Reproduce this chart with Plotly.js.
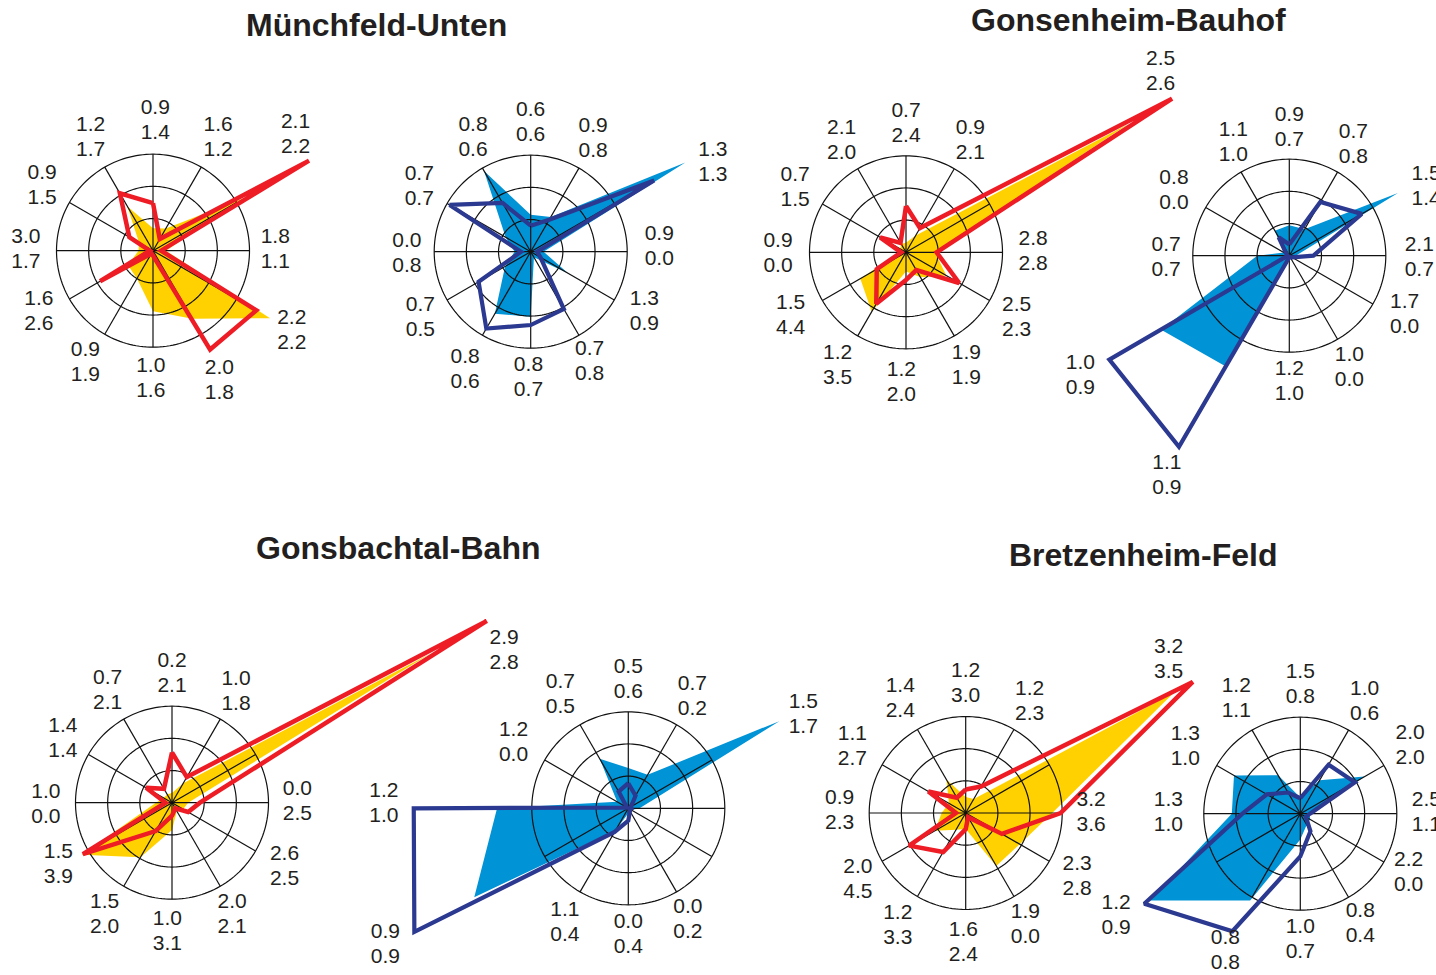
<!DOCTYPE html>
<html>
<head>
<meta charset="utf-8">
<script src="https://cdn.plot.ly/plotly-3.0.1.min.js"></script>
<style>
  html, body { margin: 0; padding: 0; background: #ffffff; }
  #chart { width: 1436px; height: 975px; }
</style>
</head>
<body>
<div id="chart"></div>
<script>
// ---------------- DATA ----------------
// 12 wind-rose directions (degrees, clockwise from north)
const directions = [0, 30, 60, 90, 120, 150, 180, 210, 240, 270, 300, 330];

// Münchfeld-Unten, left rose (yellow area / red outline)
const muenchfeldAFill = [0.7, 0.8, 3.3, 0.4, 4.2, 2.44, 1.88, 1.0, 0.9, 0.45, 0.5, 1.6];
const muenchfeldALine = [1.48, 0.42, 5.6, 0.25, 3.71, 3.55, 0.15, 0.1, 1.9, 0.1, 0.85, 2.06];
const muenchfeldATop    = ['0.9','1.6','2.1','1.8','2.2','2.0','1.0','0.9','1.6','3.0','0.9','1.2'];
const muenchfeldABottom = ['1.4','1.2','2.2','1.1','2.2','1.8','1.6','1.9','2.6','1.7','1.5','1.7'];

// Münchfeld-Unten, right rose (blue area / navy outline)
const muenchfeldBFill = [1.15, 1.25, 5.55, 0.4, 1.35, 0.2, 2.02, 2.23, 0.92, 0.5, 0.9, 2.9];
const muenchfeldBLine = [0.81, 1.15, 4.43, 0.2, 0.35, 2.06, 2.28, 2.76, 1.87, 0.3, 2.91, 1.75];
const muenchfeldBTop    = ['0.6','0.9','1.3','0.9','1.3','0.7','0.8','0.8','0.7','0.0','0.7','0.8'];
const muenchfeldBBottom = ['0.6','0.8','1.3','0.0','0.9','0.8','0.7','0.6','0.5','0.8','0.7','0.6'];

// Gonsenheim-Bauhof, left rose
const gonsenheimAFill = [0.3, 0.6, 8.0, 0.9, 1.45, 0.9, 0.6, 2.13, 1.64, 0.2, 0.2, 0.3];
const gonsenheimALine = [1.44, 0.87, 9.55, 0.95, 1.91, 0.64, 0.86, 1.85, 1.05, 0.15, 0.93, 0.34];
const gonsenheimATop    = ['0.7','0.9','2.5','2.8','2.5','1.9','1.2','1.2','1.5','0.9','0.7','2.1'];
const gonsenheimABottom = ['2.4','2.1','2.6','2.8','2.3','1.9','2.0','3.5','4.4','0.0','1.5','2.0'];

// Gonsenheim-Bauhof, right rose
const gonsenheimBFill = [0.95, 0.95, 3.9, 0.2, 0.05, 0.05, 0.05, 3.97, 4.6, 1.0, 0.2, 0.9];
const gonsenheimBLine = [0.35, 1.93, 2.6, 0.75, 0.1, 0.05, 0.05, 6.86, 6.46, 0.05, 0.1, 0.66];
const gonsenheimBTop    = ['0.9','0.7','1.5','2.1','1.7','1.0','1.2','1.1','1.0','0.7','0.8','1.1'];
const gonsenheimBBottom = ['0.7','0.8','1.4','0.7','0.0','0.0','1.0','0.9','0.9','0.7','0.0','1.0'];

// Gonsbachtal-Bahn, left rose
const gonsbachAFill = [0.3, 0.7, 9.3, 0.5, 0.4, 0.3, 0.85, 1.96, 3.24, 0.5, 0.3, 0.3];
const gonsbachALine = [1.56, 0.92, 11.3, 0.87, 0.58, 0.2, 0.4, 1.02, 3.2, 0.2, 0.93, 0.5];
const gonsbachATop    = ['0.2','1.0','2.9','0.0','2.6','2.0','1.0','1.5','1.5','1.0','1.4','0.7'];
const gonsbachABottom = ['2.1','1.8','2.8','2.5','2.5','2.1','3.1','2.0','3.9','0.0','1.4','2.1'];

// Gonsbachtal-Bahn, right rose
const gonsbachBFill = [1.25, 1.2, 5.42, 0.35, 0.1, 0.1, 0.15, 0.8, 5.53, 4.08, 0.4, 1.78];
const gonsbachBLine = [0.78, 0.45, 0.1, 0.1, 0.05, 0.1, 0.38, 0.85, 7.68, 6.67, 0.05, 0.6];
const gonsbachBTop    = ['0.5','0.7','1.5','','','0.0','0.0','1.1','0.9','1.2','1.2','0.7'];
const gonsbachBBottom = ['0.6','0.2','1.7','','','0.2','0.4','0.4','0.9','1.0','0.0','0.5'];

// Bretzenheim-Feld, left rose
const bretzenheimAFill = [0.5, 0.5, 7.46, 2.69, 1.94, 1.9, 0.5, 0.6, 1.1, 0.75, 0.6, 1.2];
const bretzenheimALine = [0.73, 0.95, 8.15, 2.95, 1.3, 0.15, 0.5, 1.4, 2.03, 0.3, 1.34, 0.55];
const bretzenheimATop    = ['1.2','1.2','3.2','3.2','2.3','1.9','1.6','1.2','2.0','0.9','1.1','1.4'];
const bretzenheimABottom = ['3.0','2.3','3.5','3.6','2.8','0.0','2.4','3.3','4.5','2.3','2.7','2.4'];

// Bretzenheim-Feld, right rose
const bretzenheimBFill = [0.5, 1.2, 2.31, 0.3, 0.35, 0.4, 0.8, 3.12, 5.39, 2.13, 2.38, 1.38];
const bretzenheimBLine = [0.48, 1.76, 1.96, 0.3, 0.2, 0.63, 1.33, 4.22, 5.6, 1.8, 1.2, 0.76];
const bretzenheimBTop    = ['1.5','1.0','2.0','2.5','2.2','0.8','1.0','0.8','1.2','1.3','1.3','1.2'];
const bretzenheimBBottom = ['0.8','0.6','2.0','1.1','0.0','0.4','0.7','0.8','0.9','1.0','1.0','1.1'];

const gridRings = [1, 2, 3];
const siteTitles = ['Münchfeld-Unten', 'Gonsenheim-Bauhof', 'Gonsbachtal-Bahn', 'Bretzenheim-Feld'];

// ---------------- LAYOUT / STYLE ----------------
const W = 1436, H = 975, RPX = 96.5, RMAX = 3;
const YELLOW = '#FFD100', RED = '#EE1C25', BLUE = '#0093D6', NAVY = '#2B3990';
const TXT = '#231F20';
const LABEL_SIZE = 21;

// label placement: [theta, r] per direction (positions only)
const labelPlaces = {
  mA: [[1,4.04],[30,4.05],[51,5.7],[90,3.8],[120,4.98],[153,4.55],[181,4.0],[211,4.08],[241.5,4.04],[270,3.95],[300,3.98],[331,4.0]],
  mB: [[0,4.0],[29,4.0],[64,6.3],[88,4.0],[118,4.0],[152,3.9],[181,3.95],[209,4.2],[239,4.0],[269,3.85],[300,4.0],[333,3.95]],
  gA: [[0,3.98],[30,4.0],[54.7,9.7],[90,3.95],[120.7,4.0],[152,4.0],[182,4.07],[211,4.13],[241,4.1],[269,3.98],[300,3.98],[330,4.0]],
  gB: [[0,3.95],[30,3.98],[63.6,4.75],[91,4.04],[117.5,4.04],[152,3.98],[180,3.95],[209,7.85],[240,7.5],[269,3.83],[299,4.1],[333.6,3.92]],
  bA: [[0,4.0],[30,3.98],[65.5,11.35],[90,3.9],[120,4.04],[152,3.98],[182,4.04],[211,4.07],[241,4.04],[269,3.92],[300,3.92],[330,4.0]],
  bB: [[0,3.98],[30,3.98],[62,6.16],[90,4],[120,4],[152,3.95],[180,3.95],[209,4.07],[240.6,8.67],[271,7.6],[299.5,4.1],[329,4.1]],
  zA: [[0,4.0],[30,3.98],[53,7.9],[90,3.9],[120,4.0],[152,3.95],[181,4.04],[211,4.1],[238,3.95],[271,3.92],[300,4.07],[330,4.07]],
  zB: [[0,4.0],[30,4.0],[58.6,4.0],[90,3.92],[119,3.85],[151.6,3.92],[180,3.92],[208.5,4.88],[240.8,6.56],[270,4.1],[300,4.13],[330.7,4.07]]
};

const panels = [
  {c:[153,250.7],   fill:muenchfeldAFill,  line:muenchfeldALine,  top:muenchfeldATop,  bottom:muenchfeldABottom,  lp:labelPlaces.mA, fc:YELLOW, lc:RED,  lw:4.5},
  {c:[530.7,251.7], fill:muenchfeldBFill,  line:muenchfeldBLine,  top:muenchfeldBTop,  bottom:muenchfeldBBottom,  lp:labelPlaces.mB, fc:BLUE,   lc:NAVY, lw:4.2},
  {c:[906,252.3],   fill:gonsenheimAFill,  line:gonsenheimALine,  top:gonsenheimATop,  bottom:gonsenheimABottom,  lp:labelPlaces.gA, fc:YELLOW, lc:RED,  lw:4.5},
  {c:[1289.3,255.7],fill:gonsenheimBFill,  line:gonsenheimBLine,  top:gonsenheimBTop,  bottom:gonsenheimBBottom,  lp:labelPlaces.gB, fc:BLUE,   lc:NAVY, lw:4.2},
  {c:[172,802.7],   fill:gonsbachAFill,    line:gonsbachALine,    top:gonsbachATop,    bottom:gonsbachABottom,    lp:labelPlaces.bA, fc:YELLOW, lc:RED,  lw:4.5},
  {c:[628.3,808.3], fill:gonsbachBFill,    line:gonsbachBLine,    top:gonsbachBTop,    bottom:gonsbachBBottom,    lp:labelPlaces.bB, fc:BLUE,   lc:NAVY, lw:4.2},
  {c:[965.7,813],   fill:bretzenheimAFill, line:bretzenheimALine, top:bretzenheimATop, bottom:bretzenheimABottom, lp:labelPlaces.zA, fc:YELLOW, lc:RED,  lw:4.5},
  {c:[1300.3,813.7],fill:bretzenheimBFill, line:bretzenheimBLine, top:bretzenheimBTop, bottom:bretzenheimBBottom, lp:labelPlaces.zB, fc:BLUE,   lc:NAVY, lw:4.2}
];

const titlePlaces = [[376,25],[1128,20],[398,548],[1143,555]];

// ---------------- BUILD ----------------
const close = a => a.concat([a[0]]);
const traces = [];
const layout = {
  width: W, height: H,
  margin: {l:0, r:0, t:0, b:0},
  paper_bgcolor: '#ffffff',
  plot_bgcolor: '#ffffff',
  showlegend: false,
  font: {family: 'Liberation Sans, Arial, sans-serif', color: TXT},
  annotations: []
};

const ringTheta = [];
for (let t = 0; t <= 360; t += 2) ringTheta.push(t);

panels.forEach((p, i) => {
  const sub = i === 0 ? 'polar' : 'polar' + (i + 1);
  // filled rose
  traces.push({
    type:'scatterpolar', subplot:sub, mode:'lines',
    r: close(p.fill), theta: close(directions),
    fill:'toself', fillcolor:p.fc, line:{width:0, color:p.fc},
    hoverinfo:'skip'
  });
  // rings
  gridRings.forEach(g => {
    traces.push({
      type:'scatterpolar', subplot:sub, mode:'lines',
      r: ringTheta.map(() => g), theta: ringTheta,
      line:{color:'#111111', width:1.2}, hoverinfo:'skip'
    });
  });
  // spokes
  const sr = [], st = [];
  directions.forEach(d => { sr.push(0, RMAX, null); st.push(d, d, null); });
  traces.push({
    type:'scatterpolar', subplot:sub, mode:'lines', r:sr, theta:st,
    line:{color:'#111111', width:1.2}, connectgaps:false, hoverinfo:'skip'
  });
  // outline rose
  traces.push({
    type:'scatterpolar', subplot:sub, mode:'lines',
    r: close(p.line), theta: close(directions),
    line:{color:p.lc, width:p.lw}, hoverinfo:'skip'
  });
  // labels: upper and lower value stacked around each label point
  [['top', 'top center'], ['bottom', 'bottom center']].forEach(([key, pos]) => {
    traces.push({
      type:'scatterpolar', subplot:sub, mode:'markers+text',
      r: p.lp.map(q => q[1]), theta: p.lp.map(q => q[0]),
      text: p[key],
      textposition: pos,
      marker:{size:1.6, opacity:0, color:'#ffffff'},
      textfont:{family:'Liberation Sans, Arial, sans-serif', size:LABEL_SIZE, color:TXT},
      hoverinfo:'skip'
    });
  });

  const cx = p.c[0], cy = p.c[1];
  layout[sub] = {
    domain: {x:[(cx - RPX) / W, (cx + RPX) / W], y:[(H - cy - RPX) / H, (H - cy + RPX) / H]},
    bgcolor:'rgba(0,0,0,0)',
    radialaxis:{range:[0, RMAX], autorange:false, showgrid:false, showline:false, showticklabels:false, ticks:''},
    angularaxis:{rotation:90, direction:'clockwise', showgrid:false, showline:false, showticklabels:false, ticks:''}
  };
});

siteTitles.forEach((t, i) => {
  layout.annotations.push({
    text: t, xref:'paper', yref:'paper',
    x: titlePlaces[i][0] / W, y: 1 - titlePlaces[i][1] / H,
    xanchor:'center', yanchor:'middle', showarrow:false,
    font:{family:'Liberation Sans, Arial, sans-serif', size:32, weight:'bold', color:TXT}
  });
});

Plotly.newPlot('chart', traces, layout, {displayModeBar:false, staticPlot:true}).then(gd => {
  // let the roses and their labels extend beyond the outer ring, as in the original figure
  gd.querySelectorAll('.polarlayer [clip-path]').forEach(el => el.removeAttribute('clip-path'));
  gd.querySelectorAll('.polarlayer .textpoint, .polarlayer .point').forEach(el => el.removeAttribute('display'));
});
</script>
</body>
</html>
